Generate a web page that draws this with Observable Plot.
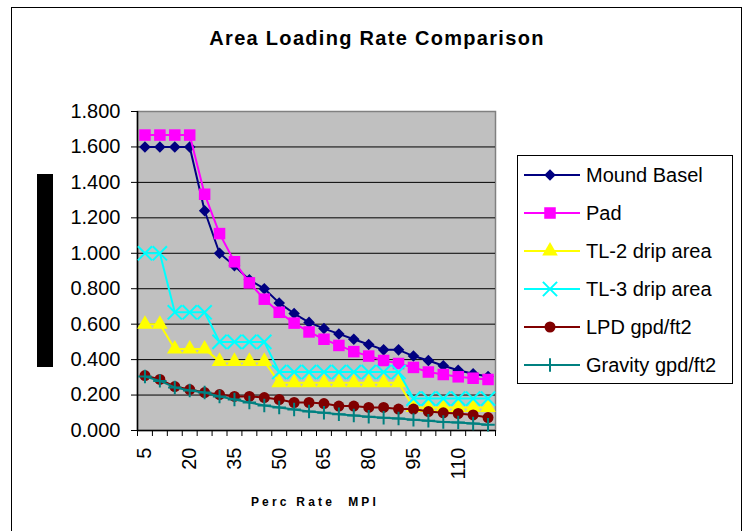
<!DOCTYPE html>
<html><head><meta charset="utf-8">
<script src="https://cdn.jsdelivr.net/npm/d3@7"></script>
<script src="https://cdn.jsdelivr.net/npm/@observablehq/plot@0.6"></script>
<style>
html,body{margin:0;padding:0;background:#fff;overflow:hidden}
#page{position:relative;width:743px;height:531px;overflow:hidden}
#page svg{position:absolute;left:0;top:0}
</style>
</head><body>
<div id="page"></div>
<script>
// ---- data ----
const percRates = [5,10,15,20,25,30,35,40,45,50,55,60,65,70,75,80,85,90,95,100,105,110,115,120];
const xTickLabels = [5,20,35,50,65,80,95,110];
const yTicks = [0,0.2,0.4,0.6,0.8,1.0,1.2,1.4,1.6,1.8];
const seriesNames = ["Mound Basel","Pad","TL-2 drip area","TL-3 drip area","LPD gpd/ft2","Gravity gpd/ft2"];
const moundBasel = [1.6,1.6,1.6,1.6,1.24,1.0,0.93,0.85,0.80,0.72,0.66,0.61,0.575,0.545,0.515,0.485,0.455,0.455,0.42,0.395,0.365,0.34,0.32,0.305];
const pad = [1.667,1.667,1.667,1.667,1.333,1.111,0.952,0.833,0.741,0.667,0.606,0.556,0.515,0.48,0.445,0.42,0.395,0.378,0.356,0.33,0.316,0.303,0.295,0.288];
const tl2Drip = [0.6,0.6,0.46,0.46,0.46,0.39,0.39,0.39,0.39,0.27,0.27,0.27,0.27,0.27,0.27,0.27,0.27,0.27,0.13,0.13,0.13,0.13,0.13,0.13];
const tl3Drip = [1.0,1.0,0.667,0.667,0.667,0.5,0.5,0.5,0.5,0.33,0.33,0.33,0.33,0.33,0.33,0.33,0.33,0.33,0.18,0.18,0.18,0.18,0.18,0.18];
const lpd = [0.31,0.288,0.248,0.231,0.214,0.203,0.192,0.192,0.186,0.175,0.158,0.158,0.152,0.138,0.138,0.13,0.13,0.121,0.121,0.107,0.10,0.096,0.088,0.073];
const gravity = [0.305,0.28,0.243,0.226,0.214,0.192,0.175,0.158,0.141,0.13,0.118,0.107,0.10,0.092,0.085,0.078,0.072,0.068,0.06,0.055,0.048,0.045,0.04,0.032];

const values = [moundBasel, pad, tl2Drip, tl3Drip, lpd, gravity];
const styles = [
  {color:"#000080", symbol:"diamond2", r:5.2, filled:true},
  {color:"#FF00FF", symbol:"square", r:6.5, filled:true},
  {color:"#FFFF00", symbol:"triangle", r:5.8, filled:true},
  {color:"#00FFFF", symbol:"times", r:6.5, filled:false},
  {color:"#800000", symbol:"circle", r:5.5, filled:true},
  {color:"#008080", symbol:"plus", r:4.4, filled:false}
];
const FONT = '"Liberation Sans", Arial, sans-serif';

const step = percRates[1] - percRates[0];
const xDomain = [percRates[0] - step/2, percRates[percRates.length-1] + step/2];
const boundaries = d3.range(percRates.length + 1).map(i => xDomain[0] + i*step);

const seriesMarks = [];
seriesNames.forEach((name, s) => {
  const data = percRates.map((p, i) => ({perc: p, value: values[s][i]}));
  const st = styles[s];
  seriesMarks.push(Plot.line(data, {x:"perc", y:"value", stroke: st.color, strokeWidth: 2}));
  seriesMarks.push(Plot.dot(data, st.filled
    ? {x:"perc", y:"value", symbol: st.symbol, r: st.r, fill: st.color, stroke: "none"}
    : {x:"perc", y:"value", symbol: st.symbol, r: st.r, stroke: st.color, strokeWidth: 2, fill: "none"}));
});

const chart = Plot.plot({
  width: 743, height: 531,
  marginLeft: 137, marginRight: 248, marginTop: 111, marginBottom: 101,
  style: {fontFamily: FONT, background: "transparent", color: "#000", overflow: "visible"},
  x: {type: "linear", domain: xDomain},
  y: {domain: [0, 1.8]},
  marks: [
    Plot.frame({fill: "#C0C0C0", stroke: "#808080", strokeWidth: 1.5}),
    Plot.ruleY(yTicks.slice(1, -1), {stroke: "#000", strokeWidth: 1}),
    Plot.ruleY([0], {stroke: "#000", strokeWidth: 1.5}),
    Plot.ruleX([xDomain[0]], {stroke: "#000", strokeWidth: 1.5}),
    Plot.axisY({ticks: yTicks, tickFormat: d3.format(".3f"), tickSize: 6, tickPadding: 11, fontSize: 20, label: null, stroke: "#000"}),
    Plot.axisX({ticks: boundaries, tickSize: 6, tickFormat: () => "", label: null, stroke: "#000"}),
    Plot.axisX({ticks: xTickLabels, tickSize: 0, tickRotate: -90, tickPadding: 17, fontSize: 20, label: null}),
    ...seriesMarks
  ]
});

document.getElementById("page").appendChild(chart);
const svg = d3.select(chart);

// outer border
svg.append("rect").attr("x", 11.5).attr("y", 7.5).attr("width", 730).attr("height", 600)
  .attr("fill", "none").attr("stroke", "#000").attr("stroke-width", 1);

// title
svg.append("text").attr("x", 377).attr("y", 45).attr("text-anchor", "middle")
  .attr("font-family", FONT).attr("font-size", 20).attr("font-weight", "bold")
  .attr("letter-spacing", "1.3px").text("Area Loading Rate Comparison");

// x-axis title
svg.append("text").attr("x", 315).attr("y", 506).attr("text-anchor", "middle")
  .attr("font-family", FONT).attr("font-size", 12).attr("font-weight", "bold")
  .attr("letter-spacing", "3.2px").style("white-space", "pre").text("Perc Rate  MPI");

// black bar (y-axis title block)
svg.append("rect").attr("x", 37).attr("y", 174).attr("width", 16).attr("height", 193).attr("fill", "#000");

// legend
const lg = svg.append("g").attr("transform", "translate(517,155)").attr("text-anchor", "start");
lg.append("rect").attr("x", 0.5).attr("y", 0.5).attr("width", 215).attr("height", 228)
  .attr("fill", "#fff").attr("stroke", "#000").attr("stroke-width", 1);
const symMap = {diamond2: d3.symbolDiamond2, square: d3.symbolSquare, triangle: d3.symbolTriangle,
                times: d3.symbolTimes, circle: d3.symbolCircle, plus: d3.symbolPlus};
seriesNames.forEach((name, s) => {
  const st = styles[s];
  const y = 20 + s*38;
  lg.append("line").attr("x1", 7).attr("x2", 63).attr("y1", y).attr("y2", y)
    .attr("stroke", st.color).attr("stroke-width", 2);
  const path = d3.symbol(symMap[st.symbol], Math.PI * st.r * st.r)();
  const p = lg.append("path").attr("d", path).attr("transform", `translate(33,${y})`);
  if (st.filled) p.attr("fill", st.color).attr("stroke", "none");
  else p.attr("fill", "none").attr("stroke", st.color).attr("stroke-width", 2);
  lg.append("text").attr("x", 69).attr("y", y).attr("dy", "0.36em").attr("text-anchor", "start")
    .attr("font-family", FONT).attr("font-size", 20).attr("fill", "#000").text(name);
});
</script>
</body></html>
